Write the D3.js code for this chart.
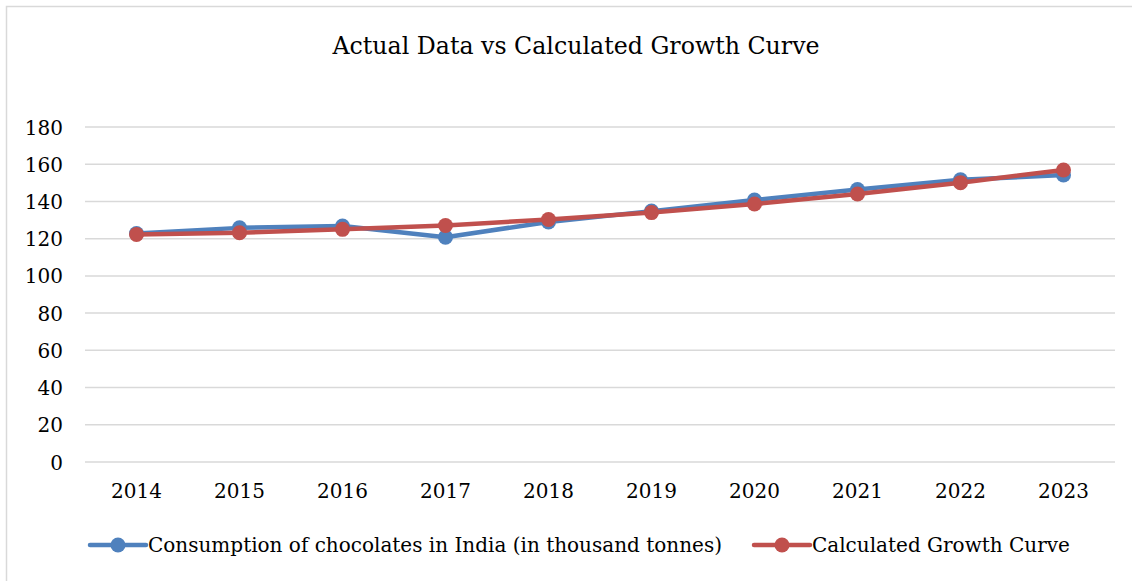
<!DOCTYPE html>
<html>
<head>
<meta charset="utf-8">
<script src="https://cdn.jsdelivr.net/npm/d3@7"></script>
<style>
  html, body { margin: 0; padding: 0; background: #fff; }
  svg { display: block; }
  text { font-family: "DejaVu Serif", "Liberation Serif", serif; fill: #000; }
</style>
</head>
<body>
<svg id="chart" width="1132" height="581"></svg>
<script>
// Chocolate consumption in India (thousand tonnes) vs fitted growth curve
const years = ["2014", "2015", "2016", "2017", "2018", "2019", "2020", "2021", "2022", "2023"];
const actual = [122.8, 125.8, 126.8, 120.8, 129.0, 134.8, 140.8, 146.4, 151.6, 154.2];
const fitted = [122.3, 123.2, 125.0, 127.1, 130.3, 134.0, 138.6, 144.0, 150.1, 156.9];
const yTicks = [0, 20, 40, 60, 80, 100, 120, 140, 160, 180];
const seriesNames = ["Consumption of chocolates in India (in thousand tonnes)", "Calculated Growth Curve"];
const seriesColors = ["#4f81bd", "#c0504d"];

const svg = d3.select("#chart");
const W = 1132, H = 581;

// outer chart frame
svg.append("rect")
  .attr("x", 6.5).attr("y", 6.5)
  .attr("width", W + 10).attr("height", H + 10)
  .attr("fill", "none").attr("stroke", "#d9d9d9").attr("stroke-width", 1.5);

const plot = { left: 85, right: 1115, top: 127, bottom: 462 };

const x = d3.scaleBand().domain(years).range([plot.left, plot.right]);
const y = d3.scaleLinear().domain([0, 180]).range([plot.bottom, plot.top]);
const cx = d => x(d) + x.bandwidth() / 2;

// title
svg.append("text")
  .attr("x", 576).attr("y", 54)
  .attr("text-anchor", "middle")
  .style("font-size", "23.7px")
  .text("Actual Data vs Calculated Growth Curve");

// horizontal gridlines
svg.append("g").selectAll("line").data(yTicks).join("line")
  .attr("x1", plot.left).attr("x2", plot.right)
  .attr("y1", d => y(d)).attr("y2", d => y(d))
  .attr("stroke", "#d9d9d9").attr("stroke-width", 1.5);

// y axis labels
const yAxis = d3.axisLeft(y).tickValues(yTicks).tickSize(0).tickPadding(0);
const gy = svg.append("g").attr("transform", "translate(63,0)").call(yAxis);
gy.select(".domain").remove();
gy.selectAll("text").style("font-size", "20px").attr("font-family", null).attr("dy", "0.35em");

// x axis labels
const xAxis = d3.axisBottom(x).tickSize(0).tickPadding(0);
const gx = svg.append("g").attr("transform", "translate(0,484)").call(xAxis);
gx.select(".domain").remove();
gx.selectAll("text").style("font-size", "20px").attr("font-family", null).attr("dy", "0.71em");

// series
const series = [actual, fitted];
const line = d3.line().x((d, i) => cx(years[i])).y(d => y(d));
series.forEach((vals, s) => {
  const g = svg.append("g");
  g.append("path")
    .datum(vals)
    .attr("d", line)
    .attr("fill", "none")
    .attr("stroke", seriesColors[s])
    .attr("stroke-width", 4.5)
    .attr("stroke-linejoin", "round")
    .attr("stroke-linecap", "round");
  g.selectAll("circle").data(vals).join("circle")
    .attr("cx", (d, i) => cx(years[i]))
    .attr("cy", d => y(d))
    .attr("r", 7.5)
    .attr("fill", seriesColors[s]);
});

// legend
const legendY = 545;
const legendItems = [
  { x0: 90, text: seriesNames[0], color: seriesColors[0] },
  { x0: 754, text: seriesNames[1], color: seriesColors[1] }
];
legendItems.forEach(it => {
  const g = svg.append("g");
  g.append("line")
    .attr("x1", it.x0).attr("x2", it.x0 + 56)
    .attr("y1", legendY).attr("y2", legendY)
    .attr("stroke", it.color).attr("stroke-width", 4.5)
    .attr("stroke-linecap", "round");
  g.append("circle")
    .attr("cx", it.x0 + 28).attr("cy", legendY).attr("r", 7.5)
    .attr("fill", it.color);
  g.append("text")
    .attr("x", it.x0 + 58).attr("y", legendY)
    .attr("dy", "0.35em")
    .style("font-size", "20px")
    .text(it.text);
});
</script>
</body>
</html>
